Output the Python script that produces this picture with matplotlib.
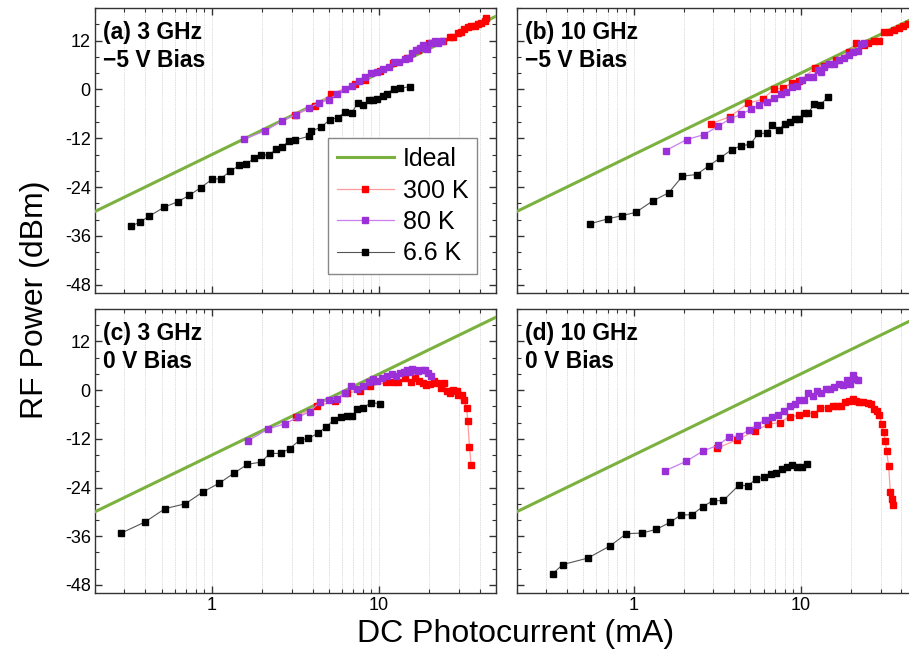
import numpy as np
import matplotlib
matplotlib.use('Agg')
import matplotlib.pyplot as plt
from matplotlib.ticker import LogLocator, MultipleLocator, FixedLocator, NullFormatter

plt.rcParams['font.family'] = ['Liberation Sans', 'DejaVu Sans']
plt.rcParams['axes.unicode_minus'] = False

# (a) 3 GHz, -5 V bias
a_300_i = [3.14, 4.15, 5.13, 7.16, 8.26, 10.1, 12.1, 14.6, 17.1, 20.0, 24.1, 26.4, 27.6, 29.6, 31.0, 32.4, 34.0, 35.5, 37.2, 38.9, 40.7, 42.7, 43.7]
a_300_p = [-6.3, -4.1, -1.2, 1.3, 2.3, 4.6, 6.4, 7.6, 9.7, 11.3, 12.0, 12.8, 12.8, 13.8, 14.0, 14.8, 15.3, 15.5, 15.6, 16.1, 16.3, 16.9, 17.5]
a_80_i = [1.55, 2.08, 2.63, 3.17, 3.79, 4.39, 5.01, 5.62, 6.24, 6.93, 7.60, 8.26, 9.0, 9.73, 10.6, 11.5, 12.2, 13.2, 14.2, 15.1, 15.8, 16.7, 17.5, 18.3, 19.3, 20.5, 21.5, 22.5, 23.9]
a_80_p = [-12.2, -10.2, -7.7, -6.2, -4.5, -3.3, -2.5, -1.1, 0.0, 0.8, 2.1, 3.0, 4.1, 4.4, 5.0, 5.4, 6.7, 6.8, 7.4, 7.6, 8.9, 9.7, 10.1, 10.9, 10.0, 11.3, 11.8, 11.5, 11.9]
a_66_i = [0.329, 0.374, 0.419, 0.520, 0.624, 0.733, 0.860, 1.0, 1.126, 1.292, 1.462, 1.61, 1.788, 1.97, 2.21, 2.42, 2.64, 2.88, 3.14, 3.82, 3.89, 4.49, 5.08, 5.67, 6.27, 6.90, 7.43, 8.03, 8.72, 9.21, 9.73, 10.6, 11.2, 12.2, 13.4, 15.2]
a_66_p = [-33.6, -32.5, -31.2, -28.9, -27.6, -26.0, -24.1, -22.1, -21.9, -20.1, -18.6, -18.3, -16.9, -16.1, -16.1, -14.6, -14.1, -12.65, -12.4, -11.5, -10.3, -9.3, -7.4, -6.9, -5.5, -5.7, -3.3, -3.8, -2.7, -2.5, -2.3, -1.6, -1.0, 0.2, 0.25, 0.7]

# (b) 10 GHz, -5 V bias
b_300_i = [2.91, 3.76, 4.85, 5.91, 6.90, 7.85, 8.80, 9.73, 12.2, 13.8, 16.3, 19.5, 21.4, 24.0, 25.1, 27.5, 29.5, 31.5, 33.8, 36.2, 38.8, 40.9, 43.5]
b_300_p = [-8.4, -6.7, -3.4, -2.4, 0.0, 0.4, 1.5, 2.1, 5.2, 5.8, 7.2, 9.3, 11.3, 10.9, 11.3, 12.0, 12.0, 14.0, 14.0, 14.6, 15.1, 15.6, 16.1]
b_80_i = [1.56, 2.08, 2.64, 3.21, 3.79, 4.40, 5.03, 5.64, 6.24, 6.90, 7.60, 8.18, 8.84, 9.51, 10.2, 11.0, 11.8, 12.6, 13.2, 13.8, 14.8, 15.9, 17.0, 18.2, 19.5, 20.6, 21.9, 22.9, 24.0]
b_80_p = [-15.0, -12.3, -11.1, -9.0, -7.2, -6.1, -4.9, -3.8, -3.1, -2.0, -1.1, -0.7, 0.6, 0.8, 2.2, 3.0, 3.1, 4.8, 4.4, 5.6, 6.2, 6.2, 7.2, 7.6, 8.5, 9.3, 9.5, 11.1, 11.3]
b_66_i = [0.549, 0.700, 0.852, 1.03, 1.30, 1.62, 1.96, 2.38, 2.81, 3.30, 3.86, 4.40, 4.99, 5.57, 6.24, 6.75, 7.39, 7.99, 8.56, 9.17, 9.73, 10.4, 11.1, 12.0, 13.0, 14.5]
b_66_p = [-33.0, -31.8, -31.0, -30.2, -27.4, -25.4, -21.3, -20.9, -18.8, -16.8, -14.8, -13.8, -13.5, -10.8, -10.8, -8.7, -10.0, -8.4, -7.9, -7.2, -7.2, -5.9, -5.7, -3.7, -3.9, -1.9]

# (c) 3 GHz, 0 V bias
c_300_i = [3.19, 4.25, 5.42, 6.43, 7.66, 8.79, 11.0, 12.1, 13.0, 14.3, 15.5, 16.4, 17.4, 18.4, 19.2, 20.1, 21.3, 22.3, 23.3, 24.4, 25.6, 26.5, 27.8, 29.1, 29.8, 31.2, 32.2, 33.4, 33.9, 34.7, 35.5]
c_300_p = [-6.5, -4.0, -2.7, -0.65, -0.2, 0.9, 1.9, 2.1, 2.1, 2.9, 1.9, 2.9, 2.3, 1.7, 1.2, 1.5, 2.2, 1.7, 0.6, 1.7, -0.3, -0.6, 0.0, -0.2, -1.3, -1.2, -2.5, -4.5, -7.7, -13.9, -18.5]
c_80_i = [1.64, 2.17, 2.72, 3.27, 3.84, 4.41, 5.01, 5.57, 6.22, 6.82, 7.41, 8.05, 8.67, 9.2, 9.73, 10.4, 11.2, 11.9, 12.6, 13.3, 14.1, 14.7, 15.3, 15.8, 16.4, 17.1, 18.0, 18.8, 19.7, 20.3]
c_80_p = [-12.5, -9.6, -8.3, -6.7, -5.3, -3.0, -2.4, -2.2, -0.6, 1.1, 0.4, 0.9, 2.1, 2.7, 2.3, 3.0, 3.5, 3.9, 3.5, 4.2, 4.4, 4.9, 4.5, 5.2, 5.0, 4.8, 5.0, 4.9, 4.2, 3.4]
c_66_i = [0.288, 0.398, 0.525, 0.695, 0.883, 1.11, 1.35, 1.63, 1.98, 2.22, 2.58, 2.92, 3.36, 3.78, 4.31, 4.81, 5.35, 5.89, 6.43, 6.92, 7.41, 8.02, 8.91, 10.1]
c_66_p = [-35.2, -32.5, -29.2, -28.0, -25.1, -22.9, -20.5, -18.3, -17.7, -15.6, -15.6, -14.4, -12.3, -11.9, -10.6, -9.1, -7.4, -6.7, -6.3, -6.3, -4.6, -4.4, -3.1, -3.3]

# (d) 10 GHz, 0 V bias
d_300_i = [3.16, 4.17, 5.29, 6.38, 7.46, 8.63, 9.77, 10.8, 12.0, 13.1, 14.5, 15.5, 16.4, 17.4, 18.5, 19.5, 20.6, 21.4, 22.4, 23.7, 25.1, 26.3, 27.5, 28.5, 29.5, 30.4, 31.3, 32.0, 32.6, 33.5, 34.3, 34.9, 35.4]
d_300_p = [-14.3, -12.2, -10.1, -8.4, -8.0, -6.5, -6.2, -5.7, -5.8, -4.3, -4.3, -4.0, -4.0, -3.9, -3.0, -2.7, -2.2, -2.6, -2.9, -3.0, -3.2, -3.5, -4.7, -5.2, -6.2, -8.4, -10.2, -12.65, -15.1, -18.6, -25.0, -26.9, -28.3]
d_80_i = [1.54, 2.07, 2.60, 3.19, 3.74, 4.27, 4.90, 5.49, 6.10, 6.75, 7.32, 7.92, 8.56, 9.17, 9.82, 10.4, 11.1, 11.8, 12.5, 13.2, 14.2, 15.0, 15.9, 17.0, 17.8, 18.9, 19.7, 20.4, 20.9, 21.9]
d_80_p = [-19.9, -17.5, -15.0, -13.6, -11.5, -11.3, -9.8, -8.5, -7.3, -6.6, -6.1, -5.1, -4.0, -3.4, -2.5, -2.5, -0.6, -1.4, -0.2, -0.8, 0.2, 0.2, 0.7, 1.5, 1.2, 2.55, 1.5, 3.7, 2.7, 2.5]
d_66_i = [0.329, 0.377, 0.532, 0.723, 0.904, 1.13, 1.37, 1.65, 1.91, 2.24, 2.59, 2.97, 3.44, 4.27, 4.85, 5.37, 6.02, 6.59, 7.10, 7.70, 8.26, 8.84, 9.47, 10.1, 10.9]
d_66_p = [-45.2, -43.0, -41.4, -38.4, -35.4, -35.2, -34.3, -32.6, -30.8, -30.7, -28.7, -27.3, -27.2, -23.4, -23.6, -21.9, -21.5, -20.7, -20.5, -19.5, -19.0, -18.5, -19.0, -19.0, -18.3]

# ideal: 50 ohm load, full modulation
ideal_i = [0.2, 50.0]
ideal_p = [20 * np.log10(i) - 16.0 for i in ideal_i]

panel_titles = ['(a) 3 GHz\n\u22125 V Bias', '(b) 10 GHz\n\u22125 V Bias',
                '(c) 3 GHz\n0 V Bias', '(d) 10 GHz\n0 V Bias']
panel_data = [
    (a_300_i, a_300_p, a_80_i, a_80_p, a_66_i, a_66_p),
    (b_300_i, b_300_p, b_80_i, b_80_p, b_66_i, b_66_p),
    (c_300_i, c_300_p, c_80_i, c_80_p, c_66_i, c_66_p),
    (d_300_i, d_300_p, d_80_i, d_80_p, d_66_i, d_66_p),
]
y_ticks = [-48, -36, -24, -12, 0, 12]

green = '#7ab13f'
red = '#ff0000'
purple = '#9b30d8'

fig = plt.figure(figsize=(9.09, 6.51), dpi=100)
W, H = 909.0, 651.0
# panel boxes in pixels: left, top, right, bottom
boxes = [(95, 8, 496, 293), (516.7, 8, 917.7, 293),
         (95, 309, 496, 593), (516.7, 309, 917.7, 593)]

axes = []
for k, (l, t, r, b) in enumerate(boxes):
    ax = fig.add_axes([l / W, 1 - b / H, (r - l) / W, (b - t) / H])
    axes.append(ax)
    i300, p300, i80, p80, i66, p66 = panel_data[k]

    ideal, = ax.plot(ideal_i, ideal_p, color=green, lw=2.2, zorder=3, label='Ideal')
    h66, = ax.plot(i66, p66, color='#555555', lw=0.8, marker='s', ms=4.4,
                   mfc='black', mec='black', zorder=4, label='6.6 K')
    h300, = ax.plot(i300, p300, color='#ff9a9a', lw=0.9, marker='s', ms=4.4,
                    mfc=red, mec=red, zorder=4, label='300 K')
    h80, = ax.plot(i80, p80, color='#c97ef0', lw=0.9, marker='s', ms=4.4,
                   mfc=purple, mec=purple, zorder=5, label='80 K')

    ax.set_xscale('log')
    ax.set_xlim(0.2, 50)
    ax.set_ylim(-50, 20)
    ax.xaxis.set_major_locator(FixedLocator([1, 10]))
    ax.xaxis.set_minor_locator(LogLocator(base=10, subs=np.arange(2, 10), numticks=20))
    ax.xaxis.set_minor_formatter(NullFormatter())
    ax.yaxis.set_major_locator(FixedLocator(y_ticks))
    ax.yaxis.set_minor_locator(MultipleLocator(4))
    ax.grid(True, which='both', axis='x', color='#dddddd', lw=0.6, ls=(0, (2, 1)))
    ax.set_axisbelow(True)
    ax.tick_params(which='both', direction='in', top=True, right=True,
                   labelsize=13, color='#333333', pad=3)
    ax.tick_params(which='major', length=5, width=1)
    ax.tick_params(which='minor', length=3, width=0.8)
    for s in ax.spines.values():
        s.set_color('#333333')
        s.set_linewidth(1.0)
    if k < 2:
        ax.tick_params(labelbottom=False)
    else:
        ax.set_xticklabels(['1', '10'])
    if k % 2 == 1:
        ax.tick_params(labelleft=False)

    ax.text(0.02, 0.955, panel_titles[k], transform=ax.transAxes, ha='left', va='top',
            fontsize=16.5, fontweight='bold', linespacing=1.3, zorder=6)

    if k == 0:
        leg = ax.legend(handles=[ideal, h300, h80, h66], loc='lower right',
                        fontsize=18, numpoints=1, handlelength=2.3, handletextpad=0.35,
                        borderaxespad=0.75, fancybox=False, framealpha=1,
                        edgecolor='#888888', labelspacing=0.3, borderpad=0.35)
        leg.get_frame().set_linewidth(1.0)
        leg.set_zorder(10)

fig.text(35 / W, 1 - 300 / H, 'RF Power (dBm)', rotation=90, ha='center', va='center', fontsize=23)
fig.text(516 / W, 1 - 634 / H, 'DC Photocurrent (mA)', ha='center', va='center', fontsize=23)

fig.savefig('out.png', dpi=100)
